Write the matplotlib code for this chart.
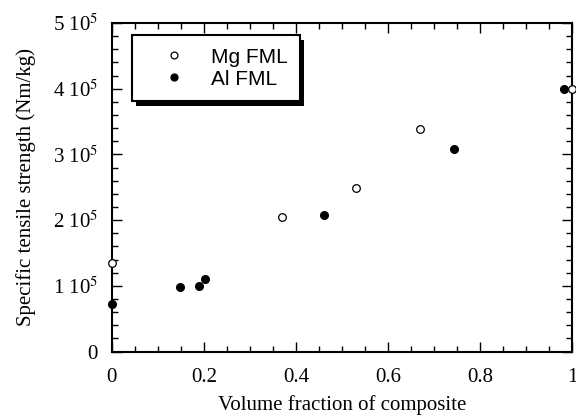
import numpy as np
import matplotlib.pyplot as plt
from matplotlib.ticker import MultipleLocator, FixedLocator
from matplotlib.patches import Rectangle

plt.rcParams['mathtext.fontset'] = 'stix'

# data
mg_frac = [0.0, 0.370, 0.531, 0.670, 1.0]
mg_strength = [1.34e5, 2.04e5, 2.49e5, 3.39e5, 4.0e5]
al_frac = [0.0, 0.149, 0.189, 0.203, 0.462, 0.744, 0.982]
al_strength = [0.73e5, 0.98e5, 1.0e5, 1.10e5, 2.07e5, 3.08e5, 4.0e5]

yticks = [0, 1e5, 2e5, 3e5, 4e5, 5e5]
ytick_labels = ['0', r'1 10$^{5}$', r'2 10$^{5}$', r'3 10$^{5}$', r'4 10$^{5}$', r'5 10$^{5}$']
xticks = [0, 0.2, 0.4, 0.6, 0.8, 1.0]
xtick_labels = ['0', '0.2', '0.4', '0.6', '0.8', '1']

serif = 'Liberation Serif'

fig = plt.figure(figsize=(5.76, 4.17), dpi=100)
ax = fig.add_axes([0.194, 0.157, 0.799, 0.788])

ax.plot(mg_frac, mg_strength, 'o', ms=5.5, mfc='white', mec='black', mew=0.9,
        ls='none', label='Mg FML', clip_on=False, zorder=5)
ax.plot(al_frac, al_strength, 'o', ms=5.5, mfc='black', mec='black',
        ls='none', label='Al FML', clip_on=False, zorder=4)

ax.set_xlim(0, 1)
ax.set_ylim(0, 5e5)
ax.xaxis.set_major_locator(FixedLocator(xticks))
ax.set_xticklabels(xtick_labels)
ax.yaxis.set_major_locator(FixedLocator(yticks))
ax.set_yticklabels(ytick_labels)
ax.xaxis.set_minor_locator(MultipleLocator(0.05))
ax.yaxis.set_minor_locator(MultipleLocator(2e4))
ax.tick_params(which='both', direction='in', top=True, right=True, width=1)
ax.tick_params(which='major', length=7, labelsize=15)
ax.tick_params(axis='x', which='major', pad=12)
ax.tick_params(axis='y', which='major', pad=10)
ax.tick_params(which='minor', length=4)
for lab in ax.get_xticklabels() + ax.get_yticklabels():
    lab.set_fontfamily(serif)
for s in ax.spines.values():
    s.set_linewidth(1.5)

ax.set_xlabel('Volume fraction of composite', fontsize=15, fontfamily=serif, labelpad=6)
ax.set_ylabel('Specific tensile strength (Nm/kg)', fontsize=15, fontfamily=serif, labelpad=12)

leg = ax.legend(loc='upper left', bbox_to_anchor=(0.043, 0.963), borderaxespad=0,
                fancybox=False, edgecolor='black', framealpha=1,
                prop={'family': 'Liberation Sans', 'size': 15},
                handletextpad=0.3, labelspacing=0.15, borderpad=0.6,
                handlelength=2.9, markerscale=0.9)
leg.get_frame().set_linewidth(1.5)
leg.set_zorder(6)

# heavier drop shadow than the built-in one, drawn just under the legend
fig.canvas.draw()
bb = leg.get_window_extent().transformed(fig.transFigure.inverted())
dx, dy = 4 / 576, 5 / 417
ax.add_patch(Rectangle((bb.x0 + dx, bb.y0 - dy), bb.width, bb.height,
                       transform=fig.transFigure, facecolor='black',
                       edgecolor='none', zorder=5.5, clip_on=False))

fig.savefig('out.png', dpi=100)
